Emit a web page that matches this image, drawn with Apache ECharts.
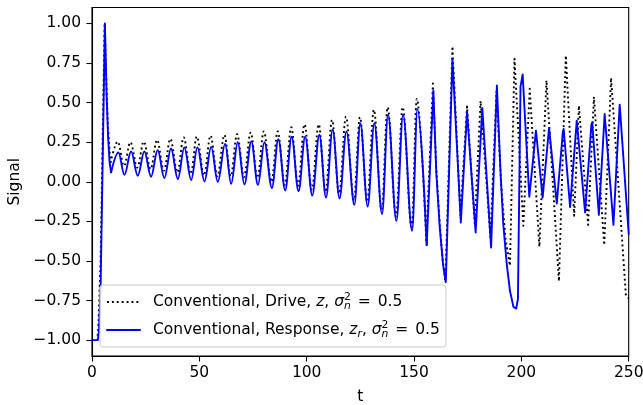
<!DOCTYPE html>
<html><head><meta charset="utf-8">
<script src="https://cdn.jsdelivr.net/npm/echarts@6/dist/echarts.min.js"></script>
<style>html,body{margin:0;padding:0;background:#fff}#c{width:643px;height:405px}</style>
</head><body><div id="c"></div>
<script>
// tick values
const xTicks = [0, 50, 100, 150, 200, 250];
const yTicks = [-1, -0.75, -0.5, -0.25, 0, 0.25, 0.5, 0.75, 1];

// Drive z (dotted black): [t, value]
const driveStart = [[0,-1],[2.5,-1],[3.0,-0.9],[4.0,-0.5],[5.0,0.3],[5.9,1.0],[6.7,0.62],[7.4,0.35],[8.6,0.12]];
const driveMid = [[8.6,0.12],[12.0,0.253],[14.9,0.10],[17.9,0.249],[21.1,0.09],[24.1,0.253],[27.3,0.08],[30.3,0.264],[33.5,0.07],[36.5,0.27],[39.8,0.06],[42.7,0.28],[46.0,0.05],[48.8,0.285],[52.2,0.04],[55.2,0.291],[58.4,0.035],[61.7,0.295],[64.6,0.035],[67.6,0.30],[70.8,0.03],[73.9,0.31],[77.1,0.025],[80.0,0.318],[83.6,0.0],[86.5,0.318],[89.8,-0.02],[92.8,0.344],[96.0,-0.025],[99.0,0.362],[102.4,-0.05],[105.6,0.362],[108.8,-0.065],[111.8,0.39],[115.1,-0.075],[118.3,0.41],[122.0,-0.115],[124.8,0.407],[128.2,-0.125],[131.3,0.454],[134.9,-0.175],[137.7,0.47],[141.6,-0.22],[144.7,0.47],[148.9,-0.285],[151.3,0.523],[155.7,-0.375]];
const driveEnd = [[155.7,-0.375],[158.8,0.62],[160.3,0.1],[162.0,-0.27],[163.4,-0.5],[164.6,-0.63],[167.9,0.855],[171.6,-0.21],[174.7,0.475],[178.3,-0.265],[181.0,0.51],[185.6,-0.35],[188.4,0.57],[190.5,0.0],[192.6,-0.36],[194.7,-0.53],[196.8,0.777],[200.9,-0.278],[203.9,0.587],[208.4,-0.41],[211.7,0.64],[217.5,-0.628],[220.7,0.797],[224.6,-0.215],[226.8,0.48],[231.1,-0.272],[233.8,0.536],[238.6,-0.40],[241.8,0.656],[248.7,-0.72],[250,-0.735]];

// Response z_r (solid blue): [t, value]
const respStart = [[0,-1],[2.7,-1],[3.2,-0.95],[4.0,-0.67],[5.0,0.15],[6.0,1.0],[6.8,0.55],[7.5,0.28],[8.2,0.12],[8.9,0.059]];
const respMid = [[8.9,0.059],[12.3,0.185],[15.1,0.044],[18.2,0.192],[21.3,0.038],[24.4,0.192],[27.5,0.032],[30.6,0.200],[33.7,0.023],[36.8,0.210],[40.0,0.017],[43.0,0.217],[46.2,0.011],[49.1,0.217],[52.4,0.002],[55.5,0.220],[58.6,0.000],[62.0,0.239],[64.8,-0.013],[67.9,0.249],[71.0,-0.017],[74.2,0.255],[77.3,-0.020],[80.3,0.249],[83.8,-0.040],[86.8,0.268],[90.0,-0.055],[93.0,0.285],[96.2,-0.060],[99.3,0.285],[102.6,-0.087],[105.9,0.297],[109.0,-0.100],[112.1,0.330],[115.3,-0.105],[118.5,0.318],[122.2,-0.146],[125.0,0.369],[128.4,-0.156],[131.5,0.369],[135.1,-0.204],[137.9,0.424],[141.8,-0.247],[144.9,0.424],[149.1,-0.310],[151.6,0.460],[155.9,-0.400]];
const respEnd = [[155.9,-0.400],[159.0,0.576],[160.4,0.05],[162.0,-0.29],[163.5,-0.52],[164.8,-0.635],[167.9,0.775],[171.8,-0.257],[174.7,0.44],[178.7,-0.32],[181.8,0.466],[185.9,-0.415],[188.6,0.608],[189.2,0.41],[190.4,0.03],[191.6,-0.27],[193.2,-0.52],[194.7,-0.69],[196.3,-0.79],[197.6,-0.80],[198.4,-0.74],[199.6,0.60],[200.6,0.677],[203.7,-0.095],[206.8,0.323],[209.9,-0.10],[212.9,0.34],[216.5,-0.137],[219.3,0.31],[219.7,0.333],[222.7,-0.16],[225.8,0.386],[229.7,-0.194],[232.6,0.36],[233.0,0.375],[236.1,-0.209],[238.8,0.428],[242.9,-0.272],[245.8,0.487],[250,-0.33]];

const FONT = 'DejaVu Sans';
const FS = 15.5;
const SFS = 10.8;
const DRIVE = 'drive', RESP = 'response';
const driveStyle = {color: '#000000', width: 1.9, type: [1.9, 3.0], join: 'round', cap: 'butt'};
const respStyle = {color: '#0000ff', width: 1.9, type: 'solid', join: 'round', cap: 'round'};

function mk(name, data, style, smooth) {
  return {
    type: 'line', name: name, data: data, symbol: 'none', showSymbol: false,
    smooth: smooth, smoothMonotone: smooth ? 'x' : undefined,
    lineStyle: style, itemStyle: {color: style.color},
    animation: false, silent: true, z: name === RESP ? 3 : 2
  };
}

const chart = echarts.init(document.getElementById('c'), null, {renderer: 'canvas'});
chart.setOption({
  backgroundColor: '#ffffff',
  animation: false,
  grid: {left: 92, right: 14.3, top: 7.5, bottom: 49, containLabel: false, outerBoundsMode: 'none',
    show: true, borderColor: '#000', borderWidth: 1.1, backgroundColor: 'transparent'},
  xAxis: {
    type: 'value', min: 0, max: 250, interval: 50,
    name: 't', nameLocation: 'middle', nameGap: 33,
    nameTextStyle: {fontFamily: FONT, fontSize: FS, color: '#000'},
    axisLine: {show: true, onZero: false, lineStyle: {color: '#000', width: 1.1}},
    axisTick: {show: true, length: 5.5, inside: false, lineStyle: {color: '#000', width: 1.1}, customValues: xTicks},
    axisLabel: {color: '#000', fontFamily: FONT, fontSize: FS, margin: 9, customValues: xTicks},
    splitLine: {show: false}
  },
  yAxis: {
    type: 'value', min: -1.1, max: 1.1,
    name: 'Signal', nameLocation: 'middle', nameGap: 64, nameRotate: 90,
    nameTextStyle: {fontFamily: FONT, fontSize: FS, color: '#000'},
    axisLine: {show: true, onZero: false, lineStyle: {color: '#000', width: 1.1}},
    axisTick: {show: true, length: 5.5, inside: false, lineStyle: {color: '#000', width: 1.1}, customValues: yTicks},
    axisLabel: {color: '#000', fontFamily: FONT, fontSize: FS, margin: 11, customValues: yTicks,
      formatter: v => (v < 0 ? '\u2212' : '') + Math.abs(v).toFixed(2)},
    splitLine: {show: false}
  },
  legend: {
    orient: 'vertical', left: 100, top: 285,
    data: [DRIVE, RESP],
    itemWidth: 33, itemHeight: 14, itemGap: 8,
    padding: [7, 6, 7, 6],
    backgroundColor: 'rgba(255,255,255,0.8)', borderColor: '#cccccc', borderWidth: 1, borderRadius: 3,
    itemStyle: {opacity: 0},
    selectedMode: false,
    textStyle: {
      fontFamily: FONT, fontSize: FS, color: '#000', lineHeight: 20, padding: [0, 0, 0, 8],
      rich: {
        it: {fontFamily: FONT, fontSize: FS, fontStyle: 'italic', color: '#000', lineHeight: 20},
        sup: {fontFamily: FONT, fontSize: SFS, fontStyle: 'normal', color: '#000', verticalAlign: 'top', lineHeight: 6, width: 0},
        sub: {fontFamily: FONT, fontSize: SFS, fontStyle: 'italic', color: '#000', verticalAlign: 'bottom', lineHeight: 12},
        eq: {fontFamily: FONT, fontSize: FS, color: '#000', lineHeight: 20, padding: [0, 2, 0, 2]}
      }
    },
    formatter: function (name) {
      if (name === DRIVE) return 'Conventional, Drive, {it|z}, {it|\u03c3}{sup|2}{sub|n} {eq|=} 0.5';
      return 'Conventional, Response, {it|z}{sub|r}, {it|\u03c3}{sup|2}{sub|n} {eq|=} 0.5';
    }
  },
  series: [
    mk(DRIVE, driveStart, driveStyle, false),
    mk(DRIVE, driveMid, driveStyle, 0.36),
    mk(DRIVE, driveEnd, driveStyle, false),
    mk(RESP, respStart, respStyle, false),
    mk(RESP, respMid, respStyle, 0.36),
    mk(RESP, respEnd, respStyle, false)
  ]
});
</script>
</body></html>
